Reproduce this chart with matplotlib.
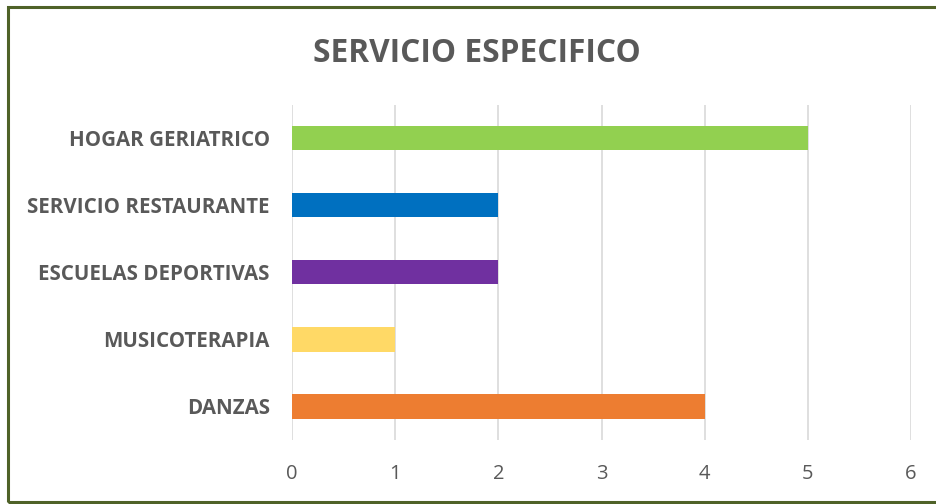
import matplotlib
matplotlib.use("Agg")
import matplotlib.pyplot as plt
from matplotlib.patches import Rectangle

# --- DATA ---
categories = ["DANZAS", "MUSICOTERAPIA", "ESCUELAS DEPORTIVAS",
              "SERVICIO RESTAURANTE", "HOGAR GERIATRICO"]
values = [4, 1, 2, 2, 5]
colors = ["#ED7D31", "#FFD966", "#7030A0", "#0070C0", "#92D050"]
x_ticks = [0, 1, 2, 3, 4, 5, 6]

plt.rcParams['font.family'] = ['Open Sans', 'DejaVu Sans']
TEXT = "#595959"

fig = plt.figure(figsize=(9.36, 5.04), dpi=100)
ax = fig.add_axes([0.312, 0.127, 0.9733 - 0.312, 0.792 - 0.127])

ax.barh(range(len(categories)), values, height=0.36, color=colors, zorder=3)
ax.set_xlim(0, 6)
ax.set_ylim(-0.5, len(categories) - 0.5)
ax.set_xticks(x_ticks)
ax.set_xticklabels([str(t) for t in x_ticks], fontsize=14.5, color=TEXT)
ax.set_yticks(range(len(categories)))
ax.set_yticklabels(categories, fontsize=14.8, fontweight='bold', color=TEXT)
ax.tick_params(axis='both', length=0)
ax.tick_params(axis='x', pad=17)
ax.tick_params(axis='y', pad=16)
ax.grid(axis='x', color="#D9D9D9", linewidth=1.2, zorder=0)
for s in ax.spines.values():
    s.set_visible(False)

fig.text(0.51, 0.894, "SERVICIO ESPECIFICO", ha='center', va='center',
         fontsize=22.8, fontweight='bold', color=TEXT)

# chart frame
fig.patches.append(Rectangle((8 / 936, 2 / 504), 1.2, 495 / 504, transform=fig.transFigure,
                             fill=False, edgecolor="#4F6228", linewidth=2.2, zorder=10))

fig.savefig("out.png", dpi=100)
